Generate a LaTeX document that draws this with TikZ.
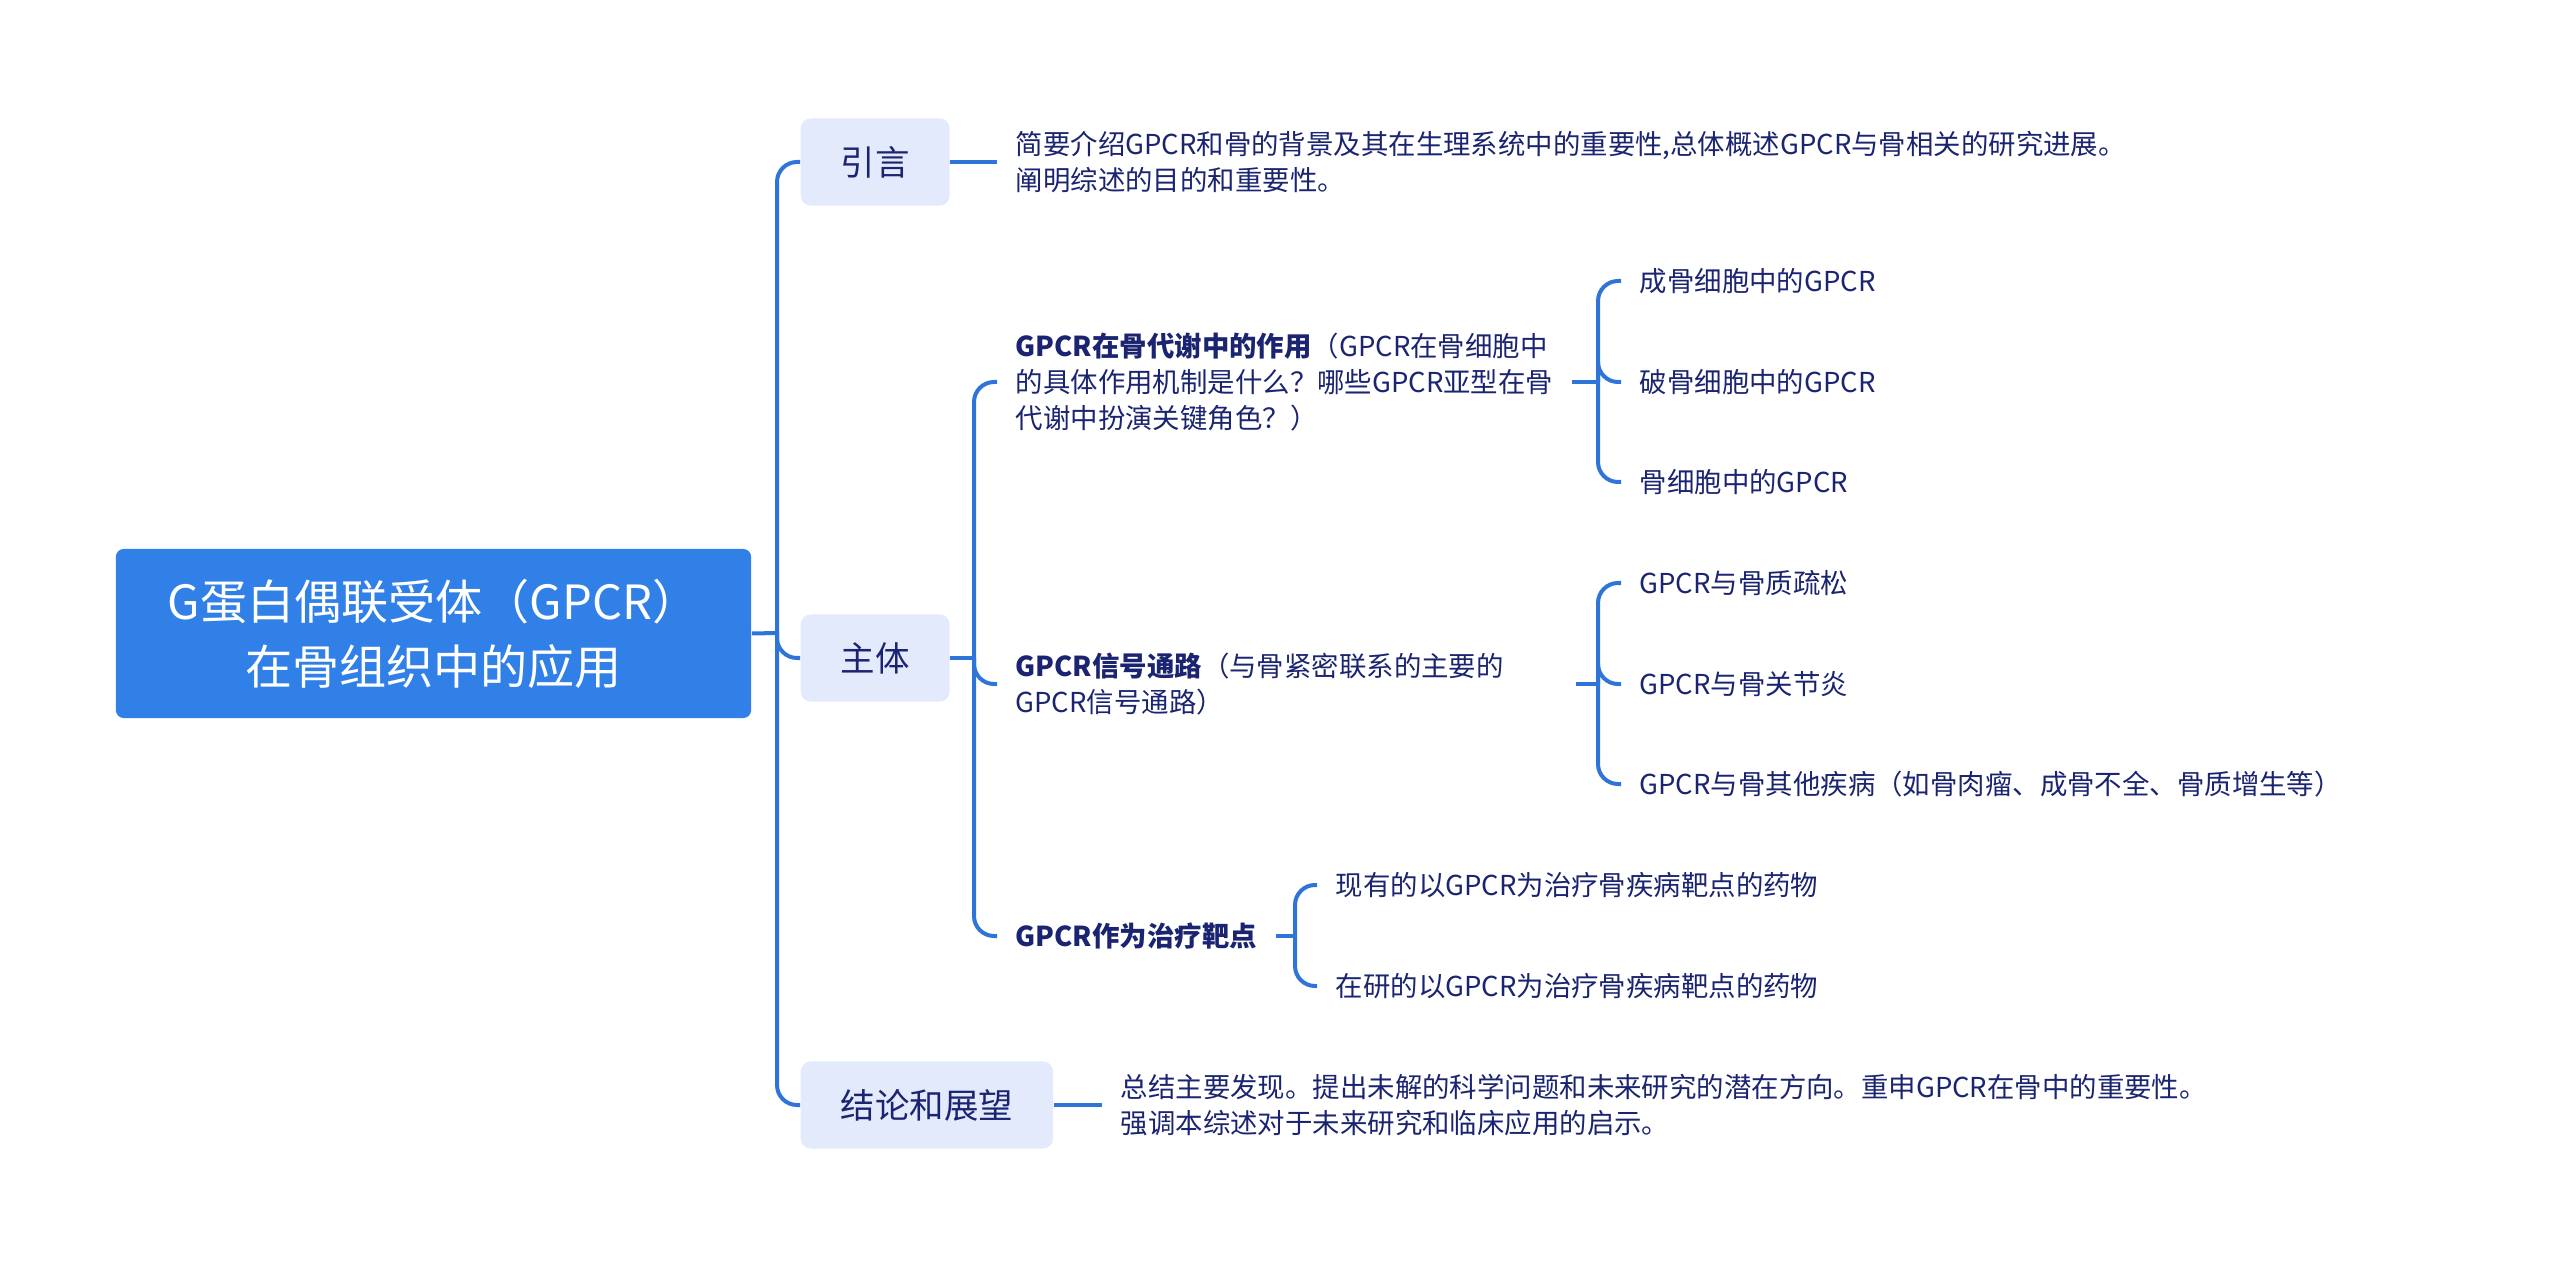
\documentclass[tikz,border=0pt]{standalone}
\usepackage{fontspec}
\setmainfont{Noto Sans CJK SC}
\definecolor{lineblue}{HTML}{2F74D8}
\definecolor{rootblue}{HTML}{3080E8}
\definecolor{topicfill}{HTML}{E3EAFC}
\definecolor{navy}{HTML}{1A2470}
\tikzset{
  rootbox/.style={fill=rootblue,rounded corners=0.08cm,text=white,align=center,minimum width=6.35cm,minimum height=1.69cm,font=\fontsize{13.4}{18.5}\selectfont},
  topic/.style={fill=topicfill,rounded corners=0.1cm,text=navy,inner xsep=0.4cm,minimum height=0.87cm,anchor=west,font=\fontsize{9.8}{12}\selectfont},
  leaf/.style={text=navy,inner xsep=0.18cm,inner ysep=0pt,align=left,anchor=west,font=\fontsize{7.8}{10.24}\selectfont},
  link/.style={draw=lineblue,line width=0.04cm,rounded corners=0.2cm},
  stub/.style={draw=lineblue,line width=0.04cm}
}
\begin{document}
\begin{tikzpicture}[x=0.01cm,y=-0.01cm]
\useasboundingbox (0,0) rectangle (2560,1267);
\path
(777,633) coordinate (rj)
(974,658) coordinate (bodyj)
(1598,382) coordinate (metaj)
(1598,684) coordinate (sigj)
(1295,936) coordinate (tarj);
\node[rootbox] (root) at (433.5,633.5) {G蛋白偶联受体（GPCR）\\在骨组织中的应用};
\node[topic] (intro) at (800,162) {引言};
\node[topic] (body) at (800,658) {主体};
\node[topic] (outlook) at (800,1105) {结论和展望};
\node[leaf] (introtxt) at (997,162) {简要介绍GPCR和骨的背景及其在生理系统中的重要性,总体概述GPCR与骨相关的研究进展。\\阐明综述的目的和重要性。};
\node[leaf] (outtxt) at (1102,1105) {总结主要发现。提出未解的科学问题和未来研究的潜在方向。重申GPCR在骨中的重要性。\\强调本综述对于未来研究和临床应用的启示。};
\node[leaf] (meta) at (997,382) {\textbf{GPCR在骨代谢中的作用}（GPCR在骨细胞中\\的具体作用机制是什么？哪些GPCR亚型在骨\\代谢中扮演关键角色？）};
\node[leaf,text width=5.41cm] (signal) at (997,684) {\textbf{GPCR信号通路}（与骨紧密联系的主要的\\GPCR信号通路）};
\node[leaf] (target) at (997,936) {\textbf{GPCR作为治疗靶点}};
\node[leaf] (m1) at (1621,281) {成骨细胞中的GPCR};
\node[leaf] (m2) at (1621,382) {破骨细胞中的GPCR};
\node[leaf] (m3) at (1621,482) {骨细胞中的GPCR};
\node[leaf] (s1) at (1621,583) {GPCR与骨质疏松};
\node[leaf] (s2) at (1621,684) {GPCR与骨关节炎};
\node[leaf] (s3) at (1621,784) {GPCR与骨其他疾病（如骨肉瘤、成骨不全、骨质增生等）};
\node[leaf] (t1) at (1317,885) {现有的以GPCR为治疗骨疾病靶点的药物};
\node[leaf] (t2) at (1317,986) {在研的以GPCR为治疗骨疾病靶点的药物};
\draw[stub] (root.east)--(rj);
\draw[stub] (intro.east)--(introtxt.west);
\draw[stub] (outlook.east)--(outtxt.west);
\draw[stub] (body.east)--(bodyj);
\draw[stub] (meta.east)--(metaj);
\draw[stub] (signal.east)--(sigj);
\draw[stub] (target.east)--(tarj);
\foreach \c in {intro,body,outlook} \draw[link] (rj)|-(\c.west);
\foreach \c in {meta,signal,target} \draw[link] (bodyj)|-(\c.west);
\foreach \c in {m1,m2,m3} \draw[link] (metaj)|-(\c.west);
\foreach \c in {s1,s2,s3} \draw[link] (sigj)|-(\c.west);
\foreach \c in {t1,t2} \draw[link] (tarj)|-(\c.west);
\end{tikzpicture}
\end{document}
